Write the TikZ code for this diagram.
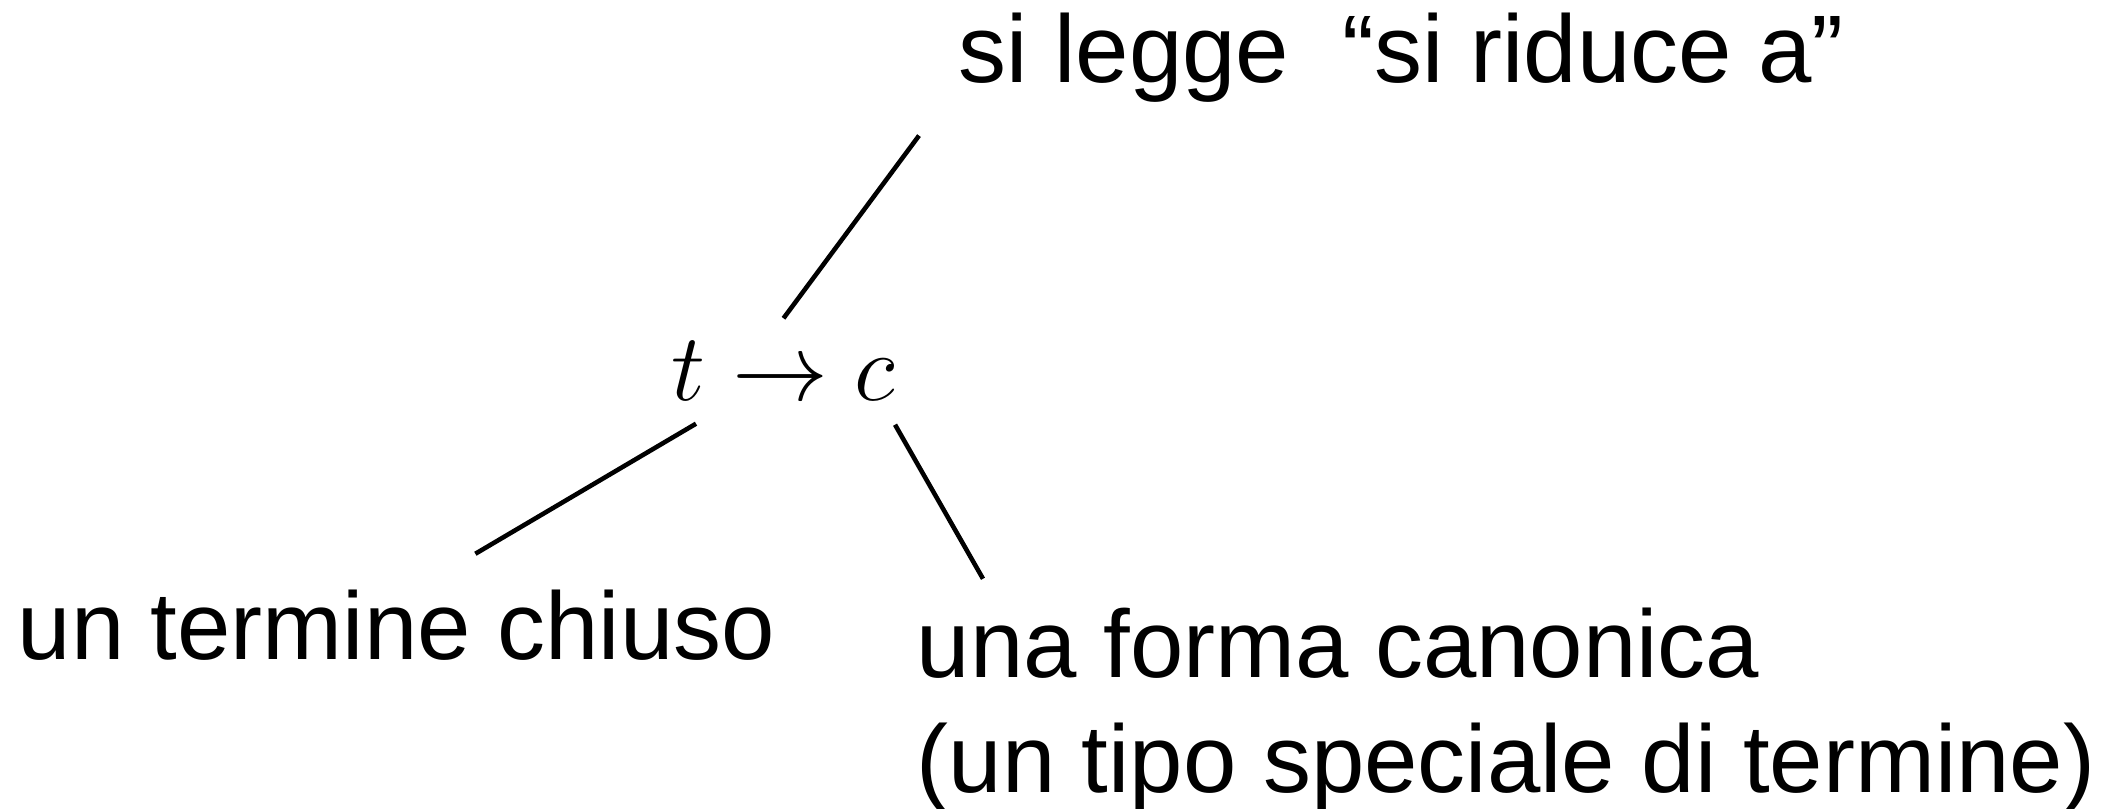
\RequirePackage{fix-cm}
\documentclass[tikz,border=0pt]{standalone}
\usepackage{fontspec}
\setmainfont{Liberation Sans}

\begin{document}
\begin{tikzpicture}[
    gloss/.style={inner sep=0pt, anchor=base west,
        font=\fontsize{27.3pt}{32.8pt}\selectfont},
    formula/.style={inner sep=0pt, anchor=base west,
        font=\fontsize{27.3pt}{32.8pt}\selectfont},
    link/.style={line width=1.3pt, -}
]
    \useasboundingbox (0,0) rectangle (21.13,8.08);
    \node[formula] (rel) at (6.71,4.07) {$t \to c$};
    \node[gloss] (reads) at (9.58,7.25) {si legge\ \ “si riduce a”};
    \node[gloss] (closed) at (0.17,1.49) {un termine chiuso};
    \node[gloss] (canon) at (9.16,1.31) {una forma canonica};
    \node[gloss] (canonnote) at (9.16,0.16) {(un tipo speciale di termine)};
    \draw[link] ([yshift=0.23cm]rel.north) -- ([xshift=-0.39cm, yshift=-0.32cm]reads.south west);
    \draw[link] ([xshift=0.25cm, yshift=-0.22cm]rel.south west) -- ([xshift=0.79cm, yshift=0.35cm]closed.north);
    \draw[link] ([xshift=-0.01cm, yshift=-0.23cm]rel.south east) -- ([xshift=0.67cm, yshift=0.28cm]canon.north west);
\end{tikzpicture}
\end{document}
